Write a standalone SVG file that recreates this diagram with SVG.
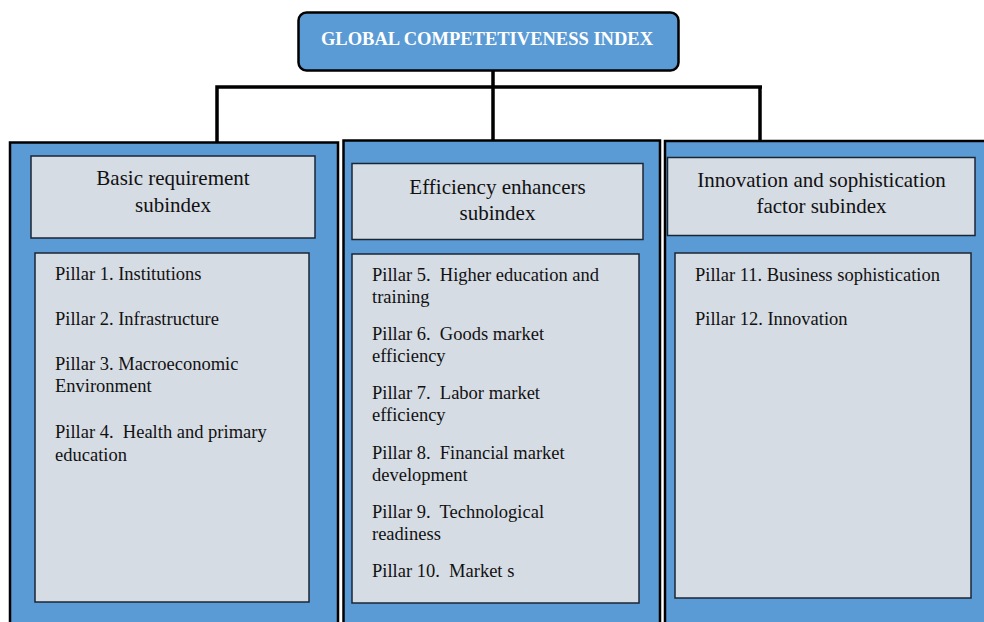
<svg xmlns="http://www.w3.org/2000/svg" width="984" height="622" viewBox="0 0 984 622">
  <style>
    .panel { fill: #5B9BD5; stroke: #000; stroke-width: 2.5; }
    .inner { fill: #D6DCE4; stroke: #1b2633; stroke-width: 1.5; }
    .title { font-family: "Liberation Serif", "Times New Roman", serif; font-size: 21px; fill: #111; text-anchor: middle; }
    .item { font-family: "Liberation Serif", "Times New Roman", serif; font-size: 18.5px; fill: #111; white-space: pre; }
    .conn { fill: none; stroke: #000; stroke-width: 3.5; }
  </style>
  <rect width="984" height="622" fill="#fff"/>

  <g id="connectors">
    <path class="conn" d="M217 143 V87 H762 M760 87 V140 M493 68 V148"/>
  </g>

  <g id="gci">
    <rect x="298.5" y="12.5" width="380" height="58" rx="8" fill="#5B9BD5" stroke="#000" stroke-width="2.5"/>
    <text x="487" y="45" font-family="Liberation Serif, 'Times New Roman', serif" font-size="18.5" font-weight="bold" fill="#fff" text-anchor="middle">GLOBAL COMPETETIVENESS INDEX</text>
  </g>

  <g id="basic">
    <rect class="panel" x="10" y="142.5" width="328" height="485"/>
    <rect class="inner" x="31" y="156" width="284" height="82"/>
    <text class="title" x="173" y="185">Basic requirement</text>
    <text class="title" x="173" y="211.5">subindex</text>
    <rect class="inner" x="35" y="253" width="274" height="349"/>
    <text class="item" x="55" y="280">Pillar 1. Institutions</text>
    <text class="item" x="55" y="325">Pillar 2. Infrastructure</text>
    <text class="item" x="55" y="370">Pillar 3. Macroeconomic</text>
    <text class="item" x="55" y="392">Environment</text>
    <text class="item" x="55" y="438" xml:space="preserve">Pillar 4.  Health and primary</text>
    <text class="item" x="55" y="461">education</text>
  </g>

  <g id="efficiency">
    <rect class="panel" x="343.5" y="140.5" width="316.5" height="487"/>
    <rect class="inner" x="352" y="163.5" width="291" height="76"/>
    <text class="title" x="497.5" y="194">Efficiency enhancers</text>
    <text class="title" x="497.5" y="220">subindex</text>
    <rect class="inner" x="352" y="254" width="287" height="349"/>
    <text class="item" x="372" y="281" xml:space="preserve">Pillar 5.  Higher education and</text>
    <text class="item" x="372" y="303">training</text>
    <text class="item" x="372" y="340" xml:space="preserve">Pillar 6.  Goods market</text>
    <text class="item" x="372" y="362">efficiency</text>
    <text class="item" x="372" y="399" xml:space="preserve">Pillar 7.  Labor market</text>
    <text class="item" x="372" y="421">efficiency</text>
    <text class="item" x="372" y="459" xml:space="preserve">Pillar 8.  Financial market</text>
    <text class="item" x="372" y="481">development</text>
    <text class="item" x="372" y="518" xml:space="preserve">Pillar 9.  Technological</text>
    <text class="item" x="372" y="540">readiness</text>
    <text class="item" x="372" y="577" xml:space="preserve">Pillar 10.  Market s</text>
  </g>

  <g id="innovation">
    <rect class="panel" x="665" y="141" width="330" height="487"/>
    <rect class="inner" x="667.5" y="157.5" width="307.5" height="78"/>
    <text class="title" x="821.5" y="187">Innovation and sophistication</text>
    <text class="title" x="821.5" y="213">factor subindex</text>
    <rect class="inner" x="675" y="253" width="296" height="345"/>
    <text class="item" x="695" y="281">Pillar 11. Business sophistication</text>
    <text class="item" x="695" y="325">Pillar 12. Innovation</text>
  </g>
</svg>
